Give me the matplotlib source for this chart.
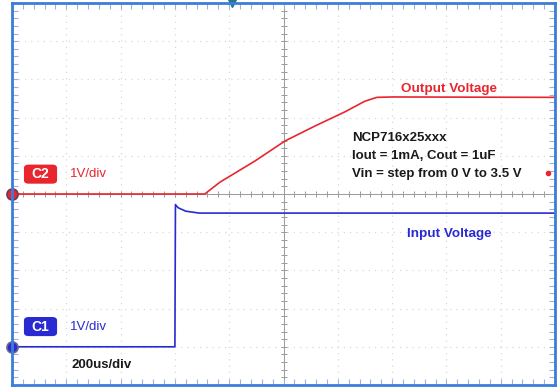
import matplotlib.pyplot as plt
from matplotlib.ticker import MultipleLocator
from matplotlib.patches import FancyBboxPatch

plt.rcParams['font.family'] = ['Liberation Sans', 'DejaVu Sans']

# Scope traces, time in divisions (200us/div), voltage in volts (1V/div)
out_t = [0, 3.55, 3.83, 4.47, 5.03, 5.58, 6.13, 6.5, 6.72, 7.0, 10]
out_v = [0, 0, 0.31, 0.86, 1.39, 1.78, 2.15, 2.43, 2.53, 2.54, 2.53]
in_t = [0, 3.0, 3.01, 3.06, 3.2, 3.45, 10]
in_v = [0, 0, 3.72, 3.64, 3.55, 3.5, 3.5]

# channel offsets in divisions
c2_offset = 0.0
c1_offset = -4.0

red = '#e8262e'
blue = '#2a2ad2'
border = '#3b7dd8'

fig = plt.figure(figsize=(5.59, 3.88), dpi=100)
pos = [12 / 559, 3 / 388, 543 / 559, 382 / 388]

# center crosshair with ticks
axc = fig.add_axes(pos)
axc.set_xlim(0, 10)
axc.set_ylim(-5, 5)
axc.spines['left'].set_position(('data', 5))
axc.spines['bottom'].set_position(('data', 0))
axc.spines['top'].set_visible(False)
axc.spines['right'].set_visible(False)
for s in ['left', 'bottom']:
    axc.spines[s].set_color('#9a9a9a')
    axc.spines[s].set_linewidth(0.7)
axc.xaxis.set_major_locator(MultipleLocator(1))
axc.yaxis.set_major_locator(MultipleLocator(1))
axc.xaxis.set_minor_locator(MultipleLocator(0.2))
axc.yaxis.set_minor_locator(MultipleLocator(0.2))
axc.tick_params(which='both', direction='inout', length=5, width=0.7, color='#9a9a9a',
                labelbottom=False, labelleft=False)
axc.grid(which='major', linestyle=(0, (1, 4)), color='#d8d8d8', lw=0.9)
axc.set_axisbelow(True)

# main frame with traces
ax = fig.add_axes(pos)
ax.patch.set_visible(False)
ax.set_xlim(0, 10)
ax.set_ylim(-5, 5)
for s in ax.spines.values():
    s.set_color(border)
    s.set_linewidth(2)
ax.xaxis.set_major_locator(MultipleLocator(1))
ax.yaxis.set_major_locator(MultipleLocator(1))
ax.xaxis.set_minor_locator(MultipleLocator(0.2))
ax.yaxis.set_minor_locator(MultipleLocator(0.2))
ax.tick_params(which='both', direction='in', length=4, width=0.8, color='#9ab2dc',
               top=True, right=True, labelbottom=False, labelleft=False)

ax.plot(out_t, [v + c2_offset for v in out_v], color=red, lw=1.2)
ax.plot(in_t, [v + c1_offset for v in in_v], color=blue, lw=1.2)

# channel ground markers
ax.plot(0, c2_offset, 'o', ms=8, mfc=red, mec='#6a3a5a', mew=1.2, clip_on=False)
ax.plot(0, c1_offset, 'o', ms=8, mfc=blue, mec='#6a6a8a', mew=1.2, clip_on=False)
# trigger markers
ax.plot(4.05, 5, 'v', ms=6, color='#1f7a86', clip_on=False)
ax.plot(9.88, 0.55, 'o', ms=3, color=red)

# channel labels
for y0, c, txt in [(0.27, red, 'C2'), (-3.72, blue, 'C1')]:
    box = FancyBboxPatch((0.22, y0), 0.61, 0.5, boxstyle='round,pad=0,rounding_size=0.09',
                         fc=c, ec='none')
    ax.add_patch(box)
    ax.text(0.525, y0 + 0.25, txt, color='white', fontsize=10, fontweight='bold',
            ha='center', va='center')
    ax.text(1.07, y0 + 0.25, '1V/div', color=c, fontsize=9.5, ha='left', va='center')

ax.text(1.1, -4.47, '200us/div', color='#1a1a1a', fontsize=9.5, fontweight='bold',
        ha='left', va='center')

ax.text(8.05, 2.75, 'Output Voltage', color=red, fontsize=9.7, fontweight='bold',
        ha='center', va='center')
ax.text(8.05, -1.05, 'Input Voltage', color=blue, fontsize=9.7, fontweight='bold',
        ha='center', va='center')

ax.text(6.26, 1.47, 'NCP716x25xxx', color='#1a1a1a', fontsize=9.5, fontweight='bold',
        ha='left', va='center')
ax.text(6.26, 1.0, 'Iout = 1mA, Cout = 1uF', color='#1a1a1a', fontsize=9.5,
        fontweight='bold', ha='left', va='center')
ax.text(6.26, 0.53, 'Vin = step from 0 V to 3.5 V', color='#1a1a1a', fontsize=9.5,
        fontweight='bold', ha='left', va='center')

fig.savefig('out.png', dpi=100)
